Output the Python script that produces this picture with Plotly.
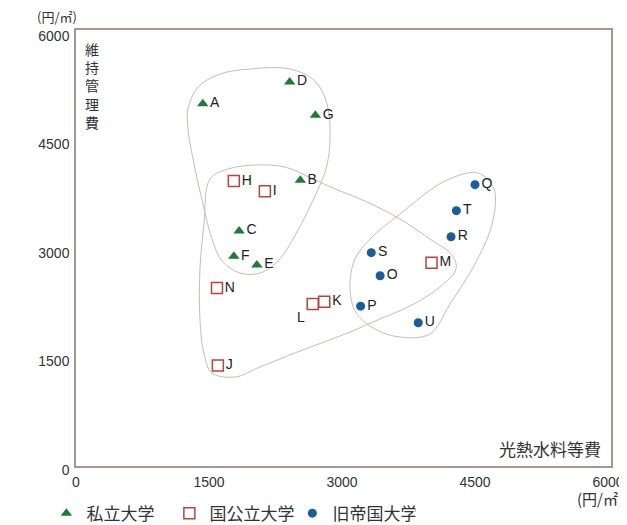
import plotly.graph_objects as go

# ---- data (光熱水料等費 x, 維持管理費 y ; 円/㎡) ----
priv_names = ["A", "B", "C", "D", "E", "F", "G"]
priv_x = [1430, 2530, 1840, 2410, 2040, 1780, 2700]
priv_y = [5010, 3950, 3250, 5310, 2780, 2900, 4850]

pub_names = ["H", "I", "J", "K", "L", "M", "N"]
pub_x = [1780, 2130, 1600, 2800, 2670, 4010, 1590]
pub_y = [3940, 3800, 1390, 2270, 2240, 2810, 2460]
pub_pos = ["middle right", "middle right", "middle right", "middle right",
           "bottom left", "middle right", "middle right"]

imp_names = ["O", "P", "Q", "R", "S", "T", "U"]
imp_x = [3430, 3210, 4500, 4230, 3330, 4290, 3860]
imp_y = [2630, 2210, 3890, 3170, 2950, 3530, 1980]

# hand-drawn grouping outlines (approximate, data units)
priv_out_x = [1263, 1376, 1624, 1962, 2413, 2695, 2831, 2865, 2820, 2695, 2492,
              2278, 2075, 1850, 1647, 1534, 1432, 1320, 1263, 1263]
priv_out_y = [4936, 5240, 5419, 5489, 5489, 5323, 5005, 4521, 4106, 3733, 3235,
              2834, 2668, 2668, 2834, 3138, 3622, 4244, 4659, 4936]

pub_out_x = [1511, 1714, 2019, 2357, 2673, 2898, 3282, 3654, 3992, 4241, 4286,
             4105, 3767, 3428, 3034, 2526, 2075, 1793, 1534, 1444, 1398, 1398,
             1444, 1511]
pub_out_y = [3968, 4106, 4161, 4134, 3968, 3843, 3650, 3415, 3138, 2917, 2724,
             2475, 2212, 2032, 1825, 1590, 1369, 1230, 1286, 1548, 2032, 2724,
             3346, 3968]

imp_out_x = [3090, 3147, 3316, 3654, 4162, 4534, 4714, 4692, 4500, 4218, 3992,
             3654, 3372, 3147, 3090]
imp_out_y = [2516, 2862, 3138, 3484, 3940, 4051, 3830, 3346, 2793, 2240, 1825,
             1783, 1894, 2143, 2516]

x_ticks = [0, 1500, 3000, 4500, 6000]
y_ticks = [0, 1500, 3000, 4500, 6000]

legend_names = ["私立大学", "国公立大学", "旧帝国大学"]
ytitle = "維持管理費"
xtitle = "光熱水料等費"
unit = "(円/㎡)"

GREEN = "#1e7b3a"
RED = "#c0403c"
BLUE = "#1a5c9c"
OUTLINE = "#c8bcb4"
LATIN = "Liberation Sans, Arial, sans-serif"
CJK = "Noto Sans CJK JP, sans-serif"

fig = go.Figure()

for ox, oy in [(priv_out_x, priv_out_y), (pub_out_x, pub_out_y), (imp_out_x, imp_out_y)]:
    fig.add_trace(go.Scatter(x=ox, y=oy, mode="lines",
                             line=dict(color=OUTLINE, width=1, shape="spline", smoothing=1.0),
                             hoverinfo="skip", showlegend=False))

fig.add_trace(go.Scatter(x=priv_x, y=priv_y, mode="markers+text", text=priv_names,
                         textposition="middle right", name=legend_names[0],
                         textfont=dict(family=LATIN, size=14, color="#222"),
                         marker=dict(symbol="triangle-up", size=10, color=GREEN)))
fig.add_trace(go.Scatter(x=pub_x, y=pub_y, mode="markers+text", text=pub_names,
                         textposition=pub_pos, name=legend_names[1],
                         textfont=dict(family=LATIN, size=14, color="#222"),
                         marker=dict(symbol="square-open", size=11, color=RED,
                                     line=dict(width=1.5, color=RED))))
fig.add_trace(go.Scatter(x=imp_x, y=imp_y, mode="markers+text", text=imp_names,
                         textposition="middle right", name=legend_names[2],
                         textfont=dict(family=LATIN, size=14, color="#222"),
                         marker=dict(symbol="circle", size=9, color=BLUE)))

axis_common = dict(showgrid=False, zeroline=False, showline=True, linecolor="#a8968c",
                   linewidth=1.5, mirror=True, ticks="outside", ticklen=2,
                   tickcolor="rgba(0,0,0,0)", automargin=False,
                   tickfont=dict(family=LATIN, size=14, color="#333"))

# page body has an 8px margin, so the figure is sized/offset to compensate
fig.update_layout(
    width=619, height=517,
    margin=dict(l=68, r=16, t=22, b=59),
    paper_bgcolor="white", plot_bgcolor="white",
    xaxis=dict(range=[0, 6034], tickvals=x_ticks, **axis_common),
    yaxis=dict(range=[0, 6028], tickvals=y_ticks, ticklabelshift=4, **axis_common),
    legend=dict(orientation="h", xref="container", yref="container",
                x=0.062, xanchor="left", y=0.022, yanchor="middle",
                font=dict(family=CJK, size=17, color="#333"),
                itemwidth=30, tracegroupgap=0, entrywidth=78),
    showlegend=True,
)

ann = []
ann.append(dict(text="<br>".join(ytitle), xref="paper", yref="paper", x=0, y=1,
                xanchor="left", yanchor="top", xshift=7, yshift=-7, showarrow=False,
                align="center",
                font=dict(family=CJK, size=14, color="#333")))
ann.append(dict(text=xtitle, xref="paper", yref="paper", x=1, y=0, xanchor="right",
                yanchor="bottom", xshift=-8, yshift=3, showarrow=False,
                font=dict(family=CJK, size=17, color="#333")))
ann.append(dict(text=unit, xref="paper", yref="paper", x=0, y=1, xanchor="right",
                yanchor="bottom", xshift=3, yshift=2, showarrow=False,
                font=dict(family=CJK, size=13, color="#333")))
ann.append(dict(text=unit, xref="paper", yref="paper", x=1, y=0, xanchor="right",
                yanchor="top", xshift=14, yshift=-20, showarrow=False,
                font=dict(family=CJK, size=15, color="#333")))
fig.update_layout(annotations=ann)

fig.write_html("out.html")
